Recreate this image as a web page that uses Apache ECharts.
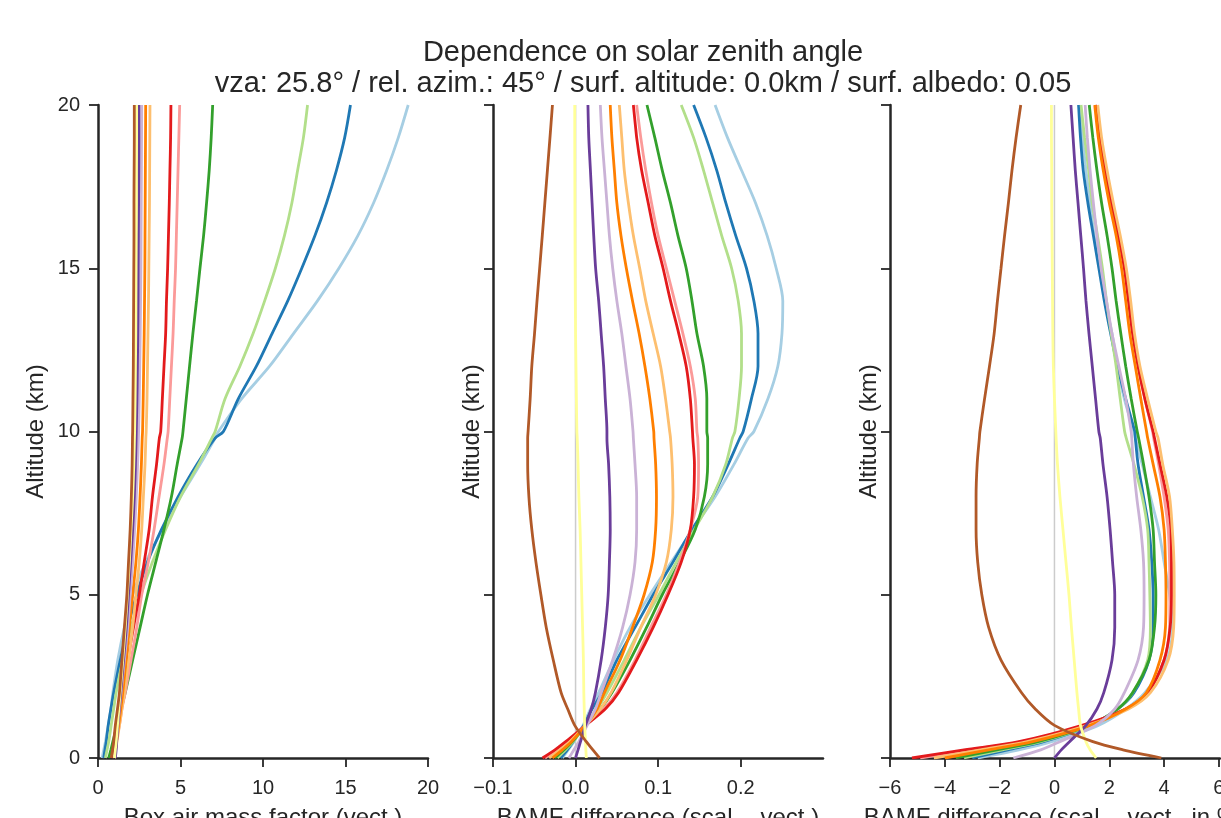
<!DOCTYPE html>
<html>
<head>
<meta charset="utf-8">
<script src="https://cdn.jsdelivr.net/npm/echarts@6/dist/echarts.min.js"></script>
<style>
html,body{margin:0;padding:0;background:#fff;}
#chart{width:1221px;height:818px;}
</style>
</head>
<body>
<div id="chart"></div>
<script>
// Altitude grid (km)
const altitudes = [0, 0.25, 0.5, 1, 1.5, 2, 3, 4, 5, 6, 7, 8, 9, 9.8, 10, 11, 12, 13, 14, 15, 16, 17, 18, 19, 20];

const seriesNames = ['SZA 1','SZA 2','SZA 3','SZA 4','SZA 5','SZA 6','SZA 7','SZA 8','SZA 9','SZA 10','SZA 11','SZA 12'];
const seriesColors = ['#a6cee3','#1f78b4','#b2df8a','#33a02c','#fb9a99','#e31a1c','#fdbf6f','#ff7f00','#cab2d6','#6a3d9a','#ffff99','#b15928'];

// Panel 1: box air mass factor (vect.)
const boxAmfVect = [
  [0.25,0.35,0.45,0.62,0.78,0.9,1.2,1.6,2.1,2.9,3.9,5.0,6.2,7.1,7.3,8.7,10.4,11.85,13.3,14.6,15.75,16.7,17.5,18.2,18.8],
  [0.35,0.42,0.5,0.62,0.78,0.95,1.35,1.8,2.35,3.0,3.85,4.85,6.0,7.1,7.6,8.5,9.6,10.55,11.5,12.35,13.15,13.85,14.45,14.95,15.3],
  [0.45,0.55,0.65,0.8,0.95,1.1,1.5,2.0,2.6,3.3,4.1,5.0,6.1,6.9,7.1,7.7,8.6,9.4,10.1,10.75,11.3,11.75,12.1,12.45,12.7],
  [0.65,0.78,0.9,1.15,1.4,1.65,2.1,2.55,3.0,3.5,4.0,4.45,4.8,5.1,5.15,5.35,5.55,5.75,5.97,6.18,6.4,6.58,6.74,6.86,6.95],
  [0.9,1.0,1.1,1.3,1.45,1.65,2.0,2.35,2.65,3.05,3.4,3.7,4.0,4.2,4.25,4.35,4.45,4.55,4.62,4.7,4.75,4.8,4.85,4.9,4.95],
  [0.85,0.92,1.0,1.15,1.3,1.5,1.8,2.15,2.5,2.8,3.1,3.3,3.55,3.72,3.8,3.9,4.0,4.1,4.15,4.22,4.27,4.32,4.36,4.4,4.42],
  [1.0,1.07,1.15,1.3,1.45,1.6,1.85,2.1,2.3,2.5,2.65,2.75,2.85,2.9,2.92,2.97,3.0,3.03,3.06,3.08,3.1,3.12,3.13,3.14,3.15],
  [1.0,1.06,1.12,1.25,1.38,1.5,1.7,1.9,2.1,2.3,2.45,2.55,2.63,2.68,2.7,2.74,2.77,2.8,2.82,2.84,2.85,2.86,2.87,2.88,2.89],
  [1.0,1.05,1.1,1.2,1.3,1.4,1.6,1.8,1.95,2.1,2.22,2.32,2.4,2.45,2.46,2.5,2.53,2.56,2.58,2.6,2.61,2.62,2.63,2.64,2.65],
  [1.05,1.1,1.13,1.2,1.29,1.38,1.55,1.72,1.85,1.98,2.1,2.2,2.27,2.31,2.32,2.36,2.39,2.41,2.43,2.44,2.45,2.46,2.47,2.48,2.48],
  [1.0,1.05,1.1,1.18,1.26,1.34,1.5,1.65,1.78,1.9,2.0,2.1,2.17,2.21,2.22,2.25,2.27,2.29,2.3,2.31,2.32,2.33,2.33,2.34,2.34],
  [0.8,0.88,0.95,1.05,1.18,1.3,1.45,1.6,1.75,1.85,1.95,2.02,2.07,2.09,2.1,2.12,2.14,2.15,2.16,2.17,2.18,2.18,2.19,2.2,2.2]
];

// Panel 2: BAMF difference (scal. - vect.)
const bamfDiffAbs = [
  [-0.016,-0.009,-0.002,0.009,0.018,0.028,0.046,0.066,0.09,0.116,0.142,0.169,0.192,0.209,0.216,0.233,0.245,0.25,0.251,0.243,0.232,0.218,0.201,0.184,0.169],
  [-0.018,-0.01,-0.003,0.01,0.02,0.032,0.05,0.072,0.094,0.118,0.141,0.166,0.185,0.199,0.203,0.213,0.221,0.221,0.216,0.207,0.194,0.182,0.171,0.158,0.143],
  [-0.022,-0.012,-0.003,0.012,0.026,0.038,0.059,0.079,0.101,0.122,0.144,0.166,0.182,0.19,0.193,0.198,0.201,0.201,0.197,0.189,0.177,0.166,0.155,0.143,0.128],
  [-0.025,-0.014,-0.004,0.012,0.03,0.044,0.066,0.086,0.105,0.126,0.145,0.156,0.16,0.16,0.159,0.159,0.155,0.147,0.141,0.134,0.124,0.115,0.105,0.096,0.0865],
  [-0.037,-0.023,-0.010,0.012,0.034,0.05,0.072,0.091,0.11,0.126,0.139,0.148,0.149,0.148,0.147,0.145,0.139,0.13,0.12,0.11,0.1,0.092,0.085,0.079,0.074],
  [-0.040,-0.025,-0.012,0.012,0.036,0.052,0.074,0.094,0.112,0.128,0.139,0.143,0.144,0.142,0.1416,0.139,0.134,0.125,0.115,0.106,0.096,0.088,0.08,0.074,0.070],
  [-0.032,-0.019,-0.007,0.012,0.03,0.043,0.062,0.079,0.097,0.11,0.116,0.118,0.117,0.115,0.114,0.109,0.103,0.094,0.085,0.0777,0.07,0.064,0.059,0.056,0.053],
  [-0.028,-0.016,-0.005,0.012,0.026,0.035,0.054,0.069,0.083,0.093,0.097,0.098,0.097,0.095,0.0947,0.09,0.084,0.077,0.069,0.0615,0.055,0.05,0.047,0.044,0.042],
  [-0.008,-0.002,0.004,0.014,0.024,0.031,0.045,0.057,0.066,0.072,0.074,0.074,0.072,0.07,0.0696,0.066,0.061,0.056,0.050,0.045,0.041,0.038,0.035,0.032,0.030],
  [0.0,0.003,0.006,0.012,0.019,0.024,0.031,0.036,0.0395,0.041,0.042,0.0415,0.040,0.038,0.038,0.036,0.034,0.031,0.028,0.0243,0.022,0.02,0.018,0.016,0.015],
  [0.013,0.0125,0.012,0.011,0.0105,0.010,0.0095,0.0085,0.0075,0.0065,0.0055,0.004,0.003,0.002,0.0016,0.001,0.0005,0.0,-0.0003,-0.0005,-0.0007,-0.0008,-0.0009,-0.001,-0.001],
  [0.029,0.021,0.013,-0.001,-0.0095,-0.0175,-0.027,-0.0355,-0.042,-0.048,-0.053,-0.0565,-0.058,-0.058,-0.0575,-0.055,-0.053,-0.0497,-0.0467,-0.0435,-0.0403,-0.0372,-0.0341,-0.031,-0.028]
];

// Panel 3: BAMF difference (scal. - vect., in %)
const bamfDiffPct = [
  [-2.8,-1.3,-0.1,1.6,2.6,3.3,4.1,4.3,4.2,4.0,3.8,3.5,3.2,2.95,2.9,2.55,2.3,2.1,1.85,1.65,1.45,1.3,1.15,1.02,0.9],
  [-3.0,-1.7,-0.4,1.3,2.3,2.9,3.45,3.6,3.6,3.55,3.45,3.25,3.05,2.95,2.93,2.6,2.3,2.05,1.82,1.62,1.42,1.22,1.05,0.95,0.88],
  [-3.3,-1.9,-0.5,1.3,2.3,2.85,3.4,3.5,3.48,3.45,3.4,3.2,2.9,2.62,2.56,2.4,2.25,2.07,1.9,1.75,1.57,1.38,1.25,1.1,0.97],
  [-3.6,-2.1,-0.6,1.25,2.3,2.85,3.45,3.65,3.7,3.65,3.6,3.45,3.25,3.07,3.02,2.8,2.6,2.42,2.25,2.1,1.92,1.72,1.55,1.4,1.27],
  [-4.9,-3.1,-1.2,1.1,2.6,3.4,4.0,4.2,4.21,4.2,4.15,4.0,3.8,3.62,3.58,3.3,3.05,2.85,2.7,2.55,2.33,2.1,1.88,1.68,1.5],
  [-5.2,-3.3,-1.3,1.0,2.6,3.4,4.0,4.22,4.27,4.27,4.25,4.1,3.85,3.65,3.6,3.3,3.05,2.85,2.7,2.55,2.33,2.08,1.85,1.65,1.5],
  [-4.4,-2.7,-1.0,1.2,2.7,3.5,4.15,4.35,4.37,4.36,4.3,4.2,3.95,3.78,3.7,3.4,3.12,2.92,2.78,2.62,2.4,2.15,1.92,1.72,1.58],
  [-4.0,-2.4,-0.8,1.3,2.6,3.35,3.85,4.05,4.07,4.05,4.0,3.85,3.6,3.4,3.36,3.15,2.95,2.75,2.6,2.45,2.25,2.0,1.78,1.6,1.47],
  [-1.5,-0.5,0.2,1.5,2.2,2.55,3.05,3.25,3.27,3.25,3.15,3.0,2.88,2.82,2.8,2.6,2.35,2.1,1.9,1.7,1.55,1.42,1.3,1.2,1.12],
  [0.0,0.25,0.55,1.15,1.55,1.8,2.1,2.2,2.2,2.12,2.03,1.92,1.77,1.67,1.62,1.5,1.38,1.26,1.15,1.06,0.96,0.86,0.76,0.68,0.6],
  [1.52,1.3,1.15,0.95,0.88,0.82,0.72,0.62,0.53,0.42,0.31,0.2,0.11,0.06,0.05,0.0,-0.04,-0.06,-0.07,-0.08,-0.09,-0.1,-0.1,-0.11,-0.11],
  [3.9,2.5,1.4,0.0,-0.7,-1.2,-1.95,-2.4,-2.65,-2.8,-2.86,-2.86,-2.82,-2.74,-2.72,-2.55,-2.37,-2.2,-2.08,-1.95,-1.82,-1.68,-1.55,-1.4,-1.23]
];

// Zero reference line (panels 2 and 3)
const zeroLineAlt = [0, 20];

// Tick values
const yTicks = [0, 5, 10, 15, 20];
const x1Ticks = [0, 5, 10, 15, 20];
const x2Ticks = [-0.1, 0.0, 0.1, 0.2];
const x3Ticks = [-6, -4, -2, 0, 2, 4, 6];

const titleLines = ['Dependence on solar zenith angle', 'vza: 25.8° / rel. azim.: 45° / surf. altitude: 0.0km / surf. albedo: 0.05'];
const xNames = ['Box air mass factor (vect.)', 'BAMF difference (scal. - vect.)', 'BAMF difference (scal. - vect., in %)'];
const yName = 'Altitude (km)';

const FONT = '"Liberation Sans", Arial, Helvetica, sans-serif';
const INK = '#262626';

const chart = echarts.init(document.getElementById('chart'), null, {renderer: 'canvas'});

const gridDefs = [
  {left: 98, top: 105, width: 330, height: 653, outerBoundsMode: 'none', containLabel: false},
  {left: 493, top: 105, width: 330, height: 653, outerBoundsMode: 'none', containLabel: false},
  {left: 890, top: 105, width: 330, height: 653, outerBoundsMode: 'none', containLabel: false}
];

const xRanges = [[0, 20], [-0.1, 0.2997], [-6, 6.04]];
const xTickSets = [x1Ticks, x2Ticks, x3Ticks];
const fmtMinus = v => String(v).replace('-', '\u2212');
const xFormatters = [
  v => String(v),
  v => fmtMinus((Math.round(v * 10) / 10).toFixed(1)),
  v => fmtMinus(String(v))
];
const yNameGaps = [50, 9, 9];

const xAxes = xRanges.map((r, i) => ({
  type: 'value', gridIndex: i, min: r[0], max: r[1],
  name: xNames[i], nameLocation: 'middle', nameGap: 48,
  nameTextStyle: {fontFamily: FONT, fontSize: 24, color: INK},
  splitLine: {show: false},
  axisLine: {show: true, onZero: false, lineStyle: {color: INK, width: 2.5}},
  axisTick: {show: true, length: 9, lineStyle: {color: INK, width: 1.8}, customValues: xTickSets[i]},
  axisLabel: {show: true, margin: 20, fontFamily: FONT, fontSize: 20, color: INK,
    customValues: xTickSets[i], formatter: xFormatters[i]}
}));

const yAxes = [0, 1, 2].map(i => ({
  type: 'value', gridIndex: i, min: 0, max: 20,
  name: yName, nameLocation: 'middle', nameRotate: 90, nameGap: yNameGaps[i],
  nameTextStyle: {fontFamily: FONT, fontSize: 24, color: INK},
  splitLine: {show: false},
  axisLine: {show: true, onZero: false, lineStyle: {color: INK, width: 2.5}},
  axisTick: {show: true, length: 9, lineStyle: {color: INK, width: 1.8}, customValues: yTicks},
  axisLabel: {show: i === 0, margin: 18, fontFamily: FONT, fontSize: 20, color: INK, customValues: yTicks}
}));

const series = [];
// zero lines first (behind)
[1, 2].forEach(p => {
  series.push({
    type: 'line', xAxisIndex: p, yAxisIndex: p, silent: true, showSymbol: false, z: 1,
    data: zeroLineAlt.map(a => [0, a]),
    lineStyle: {color: '#cccccc', width: 1.5}
  });
});
const panels = [boxAmfVect, bamfDiffAbs, bamfDiffPct];
panels.forEach((panel, p) => {
  panel.forEach((vals, s) => {
    series.push({
      name: seriesNames[s], type: 'line', xAxisIndex: p, yAxisIndex: p,
      showSymbol: false, smooth: 0.3, z: 2 + s,
      data: vals.map((v, k) => [v, altitudes[k]]),
      lineStyle: {color: seriesColors[s], width: 2.8},
      itemStyle: {color: seriesColors[s]}
    });
  });
});

chart.setOption({
  animation: false,
  backgroundColor: '#ffffff',
  title: {
    text: titleLines.join('\n'),
    left: 638, top: 32, textAlign: 'center',
    textStyle: {fontFamily: FONT, fontSize: 29, fontWeight: 'normal', color: INK, lineHeight: 31}
  },
  grid: gridDefs,
  xAxis: xAxes,
  yAxis: yAxes,
  series: series
});
</script>
</body>
</html>
